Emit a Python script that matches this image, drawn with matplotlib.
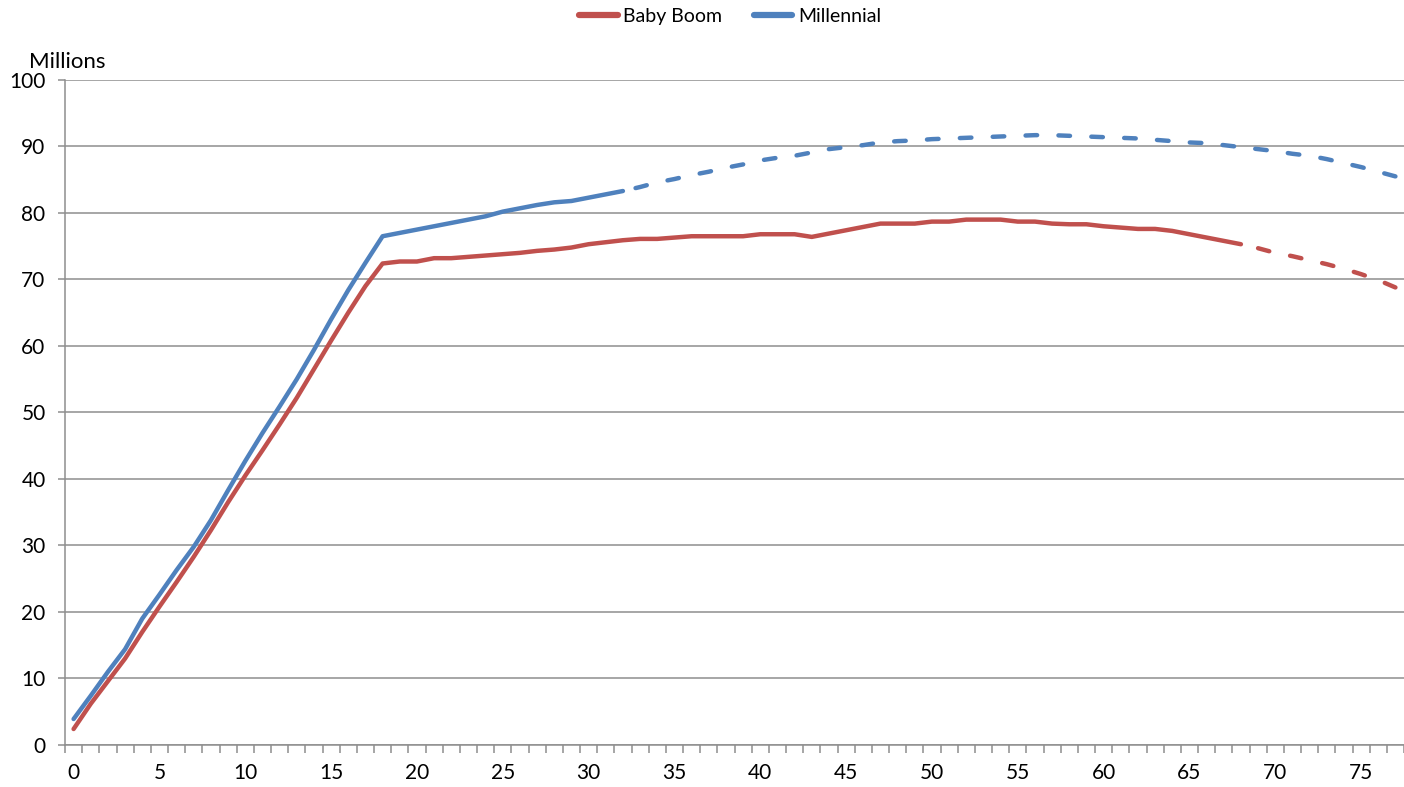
import matplotlib
matplotlib.use("Agg")
import matplotlib.pyplot as plt
from matplotlib.lines import Line2D

plt.rcParams['font.family'] = ['Lato', 'DejaVu Sans']

# Age (years) on the category axis
ages = list(range(0, 78))

# Population by age, millions
baby_boom = [
    2.4, 6.2, 9.6, 13.0, 17.0, 20.8, 24.5, 28.3, 32.3, 36.5,
    40.5, 44.3, 48.2, 52.2, 56.5, 60.8, 65.0, 69.0, 72.4, 72.7,
    72.7, 73.2, 73.2, 73.4, 73.6, 73.8, 74.0, 74.3, 74.5, 74.8,
    75.3, 75.6, 75.9, 76.1, 76.1, 76.3, 76.5, 76.5, 76.5, 76.5,
    76.8, 76.8, 76.8, 76.4, 76.9, 77.4, 77.9, 78.4, 78.4, 78.4,
    78.7, 78.7, 79.0, 79.0, 79.0, 78.7, 78.7, 78.4, 78.3, 78.3,
    78.0, 77.8, 77.6, 77.6, 77.3, 76.8, 76.3, 75.8, 75.3, 74.7,
    74.0, 73.5, 72.9, 72.3, 71.6, 70.8, 69.9, 68.8,
]
millennial = [
    3.9, 7.4, 11.0, 14.4, 19.0, 22.6, 26.3, 29.8, 33.8, 38.3,
    42.7, 46.9, 50.9, 55.0, 59.4, 64.0, 68.4, 72.5, 76.5, 77.0,
    77.5, 78.0, 78.5, 79.0, 79.5, 80.2, 80.7, 81.2, 81.6, 81.8,
    82.3, 82.8, 83.3, 83.9, 84.6, 85.1, 85.7, 86.2, 86.8, 87.3,
    87.9, 88.3, 88.6, 89.1, 89.6, 89.9, 90.2, 90.6, 90.8, 90.9,
    91.1, 91.2, 91.3, 91.4, 91.5, 91.6, 91.7, 91.7, 91.6, 91.5,
    91.4, 91.3, 91.2, 91.0, 90.8, 90.6, 90.5, 90.2, 89.9, 89.6,
    89.3, 88.9, 88.6, 88.1, 87.5, 86.9, 86.2, 85.5,
]

# Last observed age; later values are projections (dashed)
baby_boom_last_actual = 68
millennial_last_actual = 32

series = [
    ("Baby Boom", baby_boom, baby_boom_last_actual, "#C0504D"),
    ("Millennial", millennial, millennial_last_actual, "#4F81BD"),
]

x_ticks = list(range(0, 78, 5))
y_ticks = list(range(0, 101, 10))

fig = plt.figure(figsize=(14.04, 7.87), dpi=100)
ax = fig.add_axes([0.0463, 0.0534, 0.9537, 0.8450])

lw = 3.2
grid_color = "#8E8E8E"
handles = []
for name, vals, last, color in series:
    ax.plot(ages[:last + 1], vals[:last + 1], color=color, lw=lw,
            solid_capstyle="round", solid_joinstyle="round", zorder=3)
    # projection drawn from the far end so the pattern closes on a dash
    ax.plot(ages[last:][::-1], vals[last:][::-1], color=color, lw=lw,
            linestyle=(0, (2.6, 4.8)), dash_capstyle="round",
            dash_joinstyle="round", zorder=3, clip_on=False)
    handles.append(Line2D([], [], color=color, lw=4.5,
                          solid_capstyle="round", label=name))

ax.set_xlim(-0.5, 77.5)
ax.set_ylim(0, 100)

ax.set_yticks(y_ticks)
ax.yaxis.grid(True, color=grid_color, lw=1.1)
ax.set_axisbelow(True)

# Category axis: ticks on category boundaries, labels every 5 categories
ax.set_xticks([i - 0.5 for i in range(0, 79)])
ax.set_xticklabels([])
ax.set_xticks(x_ticks, minor=True)
ax.set_xticklabels([str(v) for v in x_ticks], minor=True)
ax.tick_params(axis="x", which="major", length=6, width=1.1, color=grid_color,
               direction="out")
ax.tick_params(axis="x", which="minor", length=0, pad=13, labelsize=15,
               labelcolor="#000000")
ax.tick_params(axis="y", length=5, width=1.1, color=grid_color,
               labelsize=15, pad=9)

for side in ("top", "right"):
    ax.spines[side].set_visible(False)
for side in ("left", "bottom"):
    ax.spines[side].set_color(grid_color)
    ax.spines[side].set_linewidth(1.1)

fig.text(0.021, 0.921, "Millions", fontsize=16, ha="left", va="center")

fig.legend(handles=handles, loc="center", bbox_to_anchor=(0.52, 0.979),
           ncol=2, frameon=False, fontsize=14, handlelength=2.0,
           handletextpad=0.3, columnspacing=1.6)

fig.savefig("out.png", dpi=100)
